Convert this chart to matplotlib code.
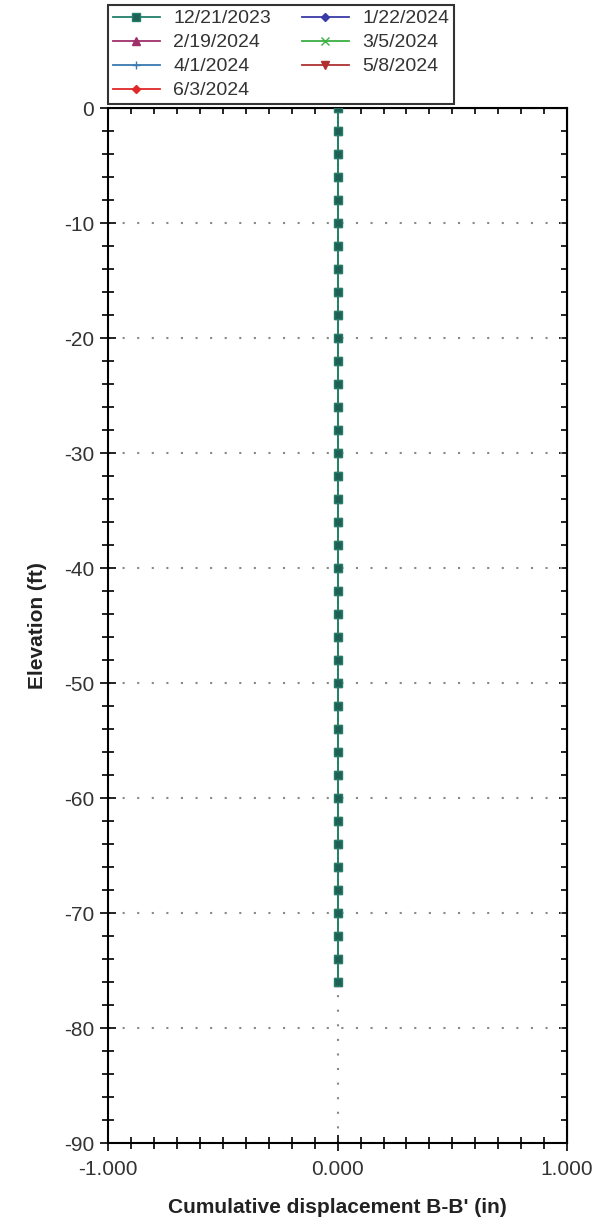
import numpy as np
import matplotlib.pyplot as plt
from matplotlib.ticker import MultipleLocator, FormatStrFormatter

plt.rcParams['font.family'] = ['Liberation Sans', 'DejaVu Sans']
plt.rcParams['axes.unicode_minus'] = False

# survey dates and their styles
dates = ['12/21/2023', '1/22/2024', '2/19/2024', '3/5/2024',
         '4/1/2024', '5/8/2024', '6/3/2024']
colors = ['#22806a', '#3a3aa8', '#a0306a', '#3cb043',
          '#3a78b0', '#b03030', '#e02828']
markers = ['s', 'D', '^', 'x', '+', 'v', 'D']

# elevation of readings (ft)
elev = [0, -2, -4, -6, -8, -10, -12, -14, -16, -18, -20, -22, -24, -26,
        -28, -30, -32, -34, -36, -38, -40, -42, -44, -46, -48, -50, -52,
        -54, -56, -58, -60, -62, -64, -66, -68, -70, -72, -74, -76]

# cumulative displacement (in), all readings essentially zero
disp_1221 = [0.0] * 39
disp_0122 = [0.0] * 39
disp_0219 = [0.0] * 39
disp_0305 = [0.002] * 39
disp_0401 = [0.0] * 39
disp_0508 = [0.0] * 39
disp_0603 = [0.0] * 39
series = [disp_1221, disp_0122, disp_0219, disp_0305,
          disp_0401, disp_0508, disp_0603]

fig = plt.figure(figsize=(6.04, 12.28), dpi=100)
ax = fig.add_axes([0.179, 0.0692, 0.76, 0.8428])

handles = []
zorders = [12, 9, 8, 10, 7, 6, 5]
for lab, c, m, d, z in zip(dates, colors, markers, series, zorders):
    ms = 4 if m == 'D' else 5.5
    h, = ax.plot(d, elev, color=c, marker=m, markersize=ms, lw=1.3,
                 label=lab, zorder=z,
                 markerfacecolor='#1f5f55' if m == 's' else c)
    handles.append(h)

ax.set_xlim(-1, 1)
ax.set_ylim(-90, 0)
ax.xaxis.set_major_locator(MultipleLocator(1))
ax.xaxis.set_minor_locator(MultipleLocator(0.1))
ax.xaxis.set_major_formatter(FormatStrFormatter('%.3f'))
ax.yaxis.set_major_locator(MultipleLocator(10))
ax.yaxis.set_minor_locator(MultipleLocator(2))

ax.tick_params(which='both', direction='inout', top=False, right=False,
               labelsize=15, labelcolor='#333333', width=1.2)
ax.tick_params(which='major', length=12)
ax.tick_params(which='minor', length=8)
ax.tick_params(axis='x', pad=6)
ax.tick_params(axis='y', pad=4)
for s in ax.spines.values():
    s.set_linewidth(1.5)

# inward ticks on the top and right edges
ax_top = ax.secondary_xaxis('top')
ax_top.xaxis.set_major_locator(MultipleLocator(1))
ax_top.xaxis.set_minor_locator(MultipleLocator(0.1))
ax_top.tick_params(which='both', direction='in', labeltop=False, width=1.2)
ax_top.tick_params(which='major', length=6)
ax_top.tick_params(which='minor', length=4)
ax_right = ax.secondary_yaxis('right')
ax_right.yaxis.set_major_locator(MultipleLocator(10))
ax_right.yaxis.set_minor_locator(MultipleLocator(2))
ax_right.tick_params(which='both', direction='in', labelright=False, width=1.2)
ax_right.tick_params(which='major', length=6)
ax_right.tick_params(which='minor', length=4)

ax.grid(True, which='major', color='#888888', linestyle=(0, (1, 6)), lw=1.5)

ax.set_xlabel("Cumulative displacement B-B' (in)", fontsize=15,
              fontweight='bold', color='#222222', labelpad=14)
ax.set_ylabel('Elevation (ft)', fontsize=15, fontweight='bold',
              color='#222222', labelpad=12)

# legend reads row by row, matplotlib fills column by column
order = [0, 2, 4, 6, 1, 3, 5]
leg = fig.legend([handles[i] for i in order], [dates[i] for i in order],
                 loc='upper left', bbox_to_anchor=(0.179, 0.996), ncol=2,
                 fontsize=14, frameon=True, fancybox=False, edgecolor='black',
                 handlelength=2.4, columnspacing=1.6, labelspacing=0.33,
                 borderpad=0.25, handletextpad=0.7, borderaxespad=0)
leg.get_frame().set_linewidth(1.5)
for t in leg.get_texts():
    t.set_color('#333333')

fig.savefig('out.png', dpi=100)
